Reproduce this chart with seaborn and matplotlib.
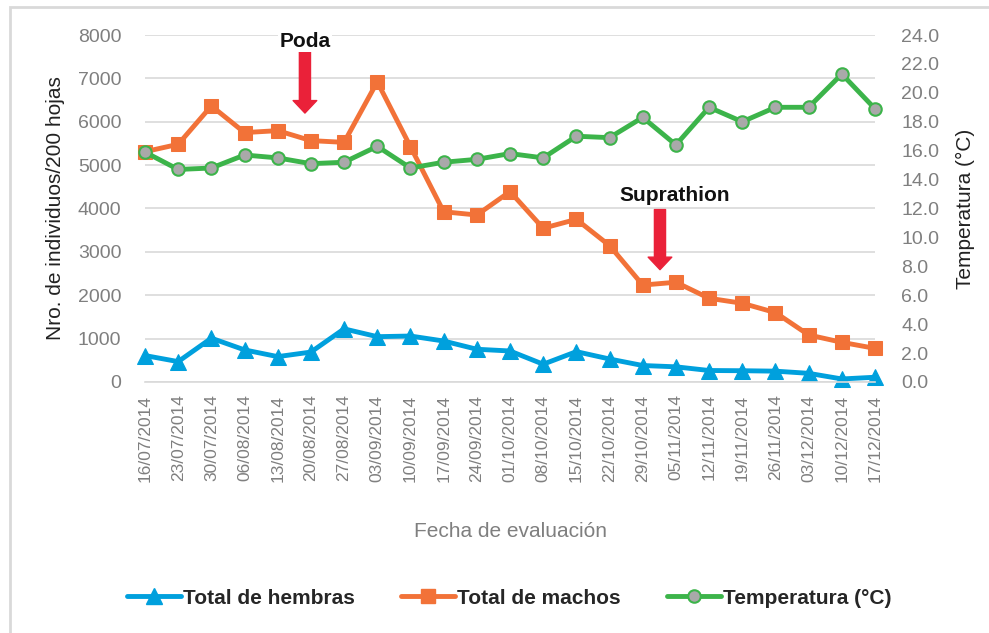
import matplotlib
matplotlib.use('Agg')
import matplotlib.pyplot as plt
import matplotlib.patches as mpatches
from matplotlib.lines import Line2D
import numpy as np
import pandas as pd
import seaborn as sns

fechas = ['16/07/2014', '23/07/2014', '30/07/2014', '06/08/2014', '13/08/2014',
          '20/08/2014', '27/08/2014', '03/09/2014', '10/09/2014', '17/09/2014',
          '24/09/2014', '01/10/2014', '08/10/2014', '15/10/2014', '22/10/2014',
          '29/10/2014', '05/11/2014', '12/11/2014', '19/11/2014', '26/11/2014',
          '03/12/2014', '10/12/2014', '17/12/2014']
hembras = [610, 470, 1010, 740, 585, 690, 1225, 1045, 1060, 945, 755, 715,
           410, 700, 530, 380, 350, 265, 260, 250, 200, 70, 110]
machos = [5310, 5480, 6365, 5750, 5795, 5565, 5525, 6920, 5425, 3925, 3850,
          4390, 3545, 3750, 3145, 2235, 2300, 1930, 1815, 1600, 1085, 915, 775]
temperatura = [15.9, 14.7, 14.8, 15.7, 15.5, 15.1, 15.2, 16.3, 14.8, 15.2,
               15.4, 15.8, 15.5, 17.0, 16.9, 18.3, 16.4, 19.0, 18.0, 19.0,
               19.0, 21.3, 18.9]

df = pd.DataFrame({'i': np.arange(len(fechas)), 'fecha': fechas,
                   'hembras': hembras, 'machos': machos, 'temp': temperatura})

sns.set_style('white')
plt.rcParams['font.family'] = ['Liberation Sans', 'DejaVu Sans']

c_blue = '#00A0DD'
c_orange = '#F27238'
c_green = '#3CB44A'
c_gray = '#7F7F7F'
bold_font = ['Liberation Sans', 'DejaVu Sans']

fig = plt.figure(figsize=(9.89, 6.33), dpi=100)
ax = fig.add_axes([145 / 989, 1 - 382 / 633, 730 / 989, 347 / 633])
ax2 = ax.twinx()

sns.lineplot(data=df, x='i', y='hembras', ax=ax, color=c_blue, lw=3.5,
             marker='^', markersize=11, markeredgecolor=c_blue, clip_on=False)
sns.lineplot(data=df, x='i', y='machos', ax=ax, color=c_orange, lw=3.5,
             marker='s', markersize=10, markeredgecolor=c_orange, clip_on=False)
sns.lineplot(data=df, x='i', y='temp', ax=ax2, color=c_green, lw=3.5,
             marker='o', markersize=9, markerfacecolor='#A9A9A9',
             markeredgecolor=c_green, markeredgewidth=1.5, clip_on=False)

ax.set_xlim(0, len(fechas) - 1)
ax.set_ylim(0, 8000)
ax2.set_ylim(0, 24)
ax.set_yticks(np.arange(0, 8001, 1000))
ax2.set_yticks(np.arange(0, 24.1, 2))
ax2.set_yticklabels([f'{v:.1f}' for v in np.arange(0, 24.1, 2)])
ax.set_xticks(df['i'])
ax.set_xticklabels(fechas, rotation=90)

ax.grid(axis='y', color='#D9D9D9', lw=1.2)
for a in (ax, ax2):
    for s in a.spines.values():
        s.set_visible(False)
ax.spines['bottom'].set_visible(True)
ax.spines['bottom'].set_color('#D9D9D9')
ax.spines['bottom'].set_linewidth(1.2)
ax.tick_params(axis='x', length=6, color='#D9D9D9', width=1.2,
               labelsize=12.5, labelcolor=c_gray, pad=3)
ax.tick_params(axis='y', length=0, labelsize=14, labelcolor=c_gray, pad=17)
ax2.tick_params(axis='y', length=0, labelsize=14, labelcolor=c_gray, pad=19)

ax.set_xlabel('Fecha de evaluación', fontsize=15, color=c_gray, labelpad=29)
ax.set_ylabel('Nro. de individuos/200 hojas', fontsize=15, color='#222222',
              labelpad=9)
ax2.set_ylabel('Temperatura (°C)', fontsize=15, color='#222222', labelpad=12)

# arrows: Poda and Suprathion
arrow = dict(arrowstyle='simple,head_length=0.45,head_width=0.85,tail_width=0.4',
             color='#EA2139', shrinkA=0, shrinkB=0, mutation_scale=20)
ax.annotate('', xy=(4.82, 6200), xytext=(4.82, 7610), arrowprops=arrow)
ax.annotate('', xy=(15.52, 2590), xytext=(15.52, 3975), arrowprops=arrow)
ax.text(4.82, 7850, 'Poda', ha='center', va='center', fontsize=15,
        fontweight='bold', family=bold_font, color='#111111',
        bbox=dict(facecolor='white', edgecolor='none', pad=1))
ax.text(15.97, 4300, 'Suprathion', ha='center', va='center', fontsize=15,
        fontweight='bold', family=bold_font, color='#111111',
        bbox=dict(facecolor='white', edgecolor='none', pad=1))

handles = [
    Line2D([], [], color=c_blue, lw=3.5, marker='^', markersize=11),
    Line2D([], [], color=c_orange, lw=3.5, marker='s', markersize=10),
    Line2D([], [], color=c_green, lw=3.5, marker='o', markersize=9,
           markerfacecolor='#A9A9A9', markeredgecolor=c_green,
           markeredgewidth=1.5),
]
labels = ['Total de hembras', 'Total de machos', 'Temperatura (°C)']
fig.legend(handles, labels, loc='center', bbox_to_anchor=(0.515, 1 - 598 / 633),
           ncol=3, frameon=False, handlelength=2.6, handletextpad=0.1,
           columnspacing=2.2,
           prop={'family': bold_font, 'weight': 'bold', 'size': 15})

# chart border
fig.patches.append(mpatches.Rectangle((10 / 989, -0.1), 1.1, 1 - 7 / 633 + 0.1,
                                      transform=fig.transFigure, fill=False,
                                      edgecolor='#D9D9D9', lw=2))

fig.savefig('out.png', dpi=100)
